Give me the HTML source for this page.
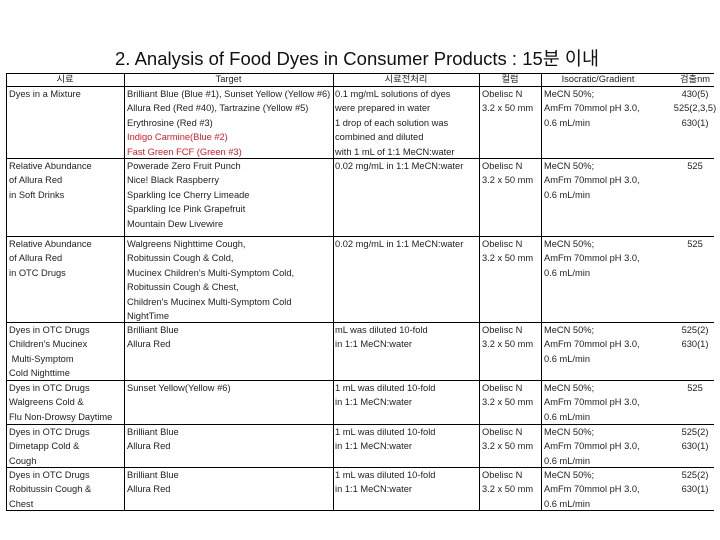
<!DOCTYPE html>
<html><head><meta charset="utf-8">
<style>
body{margin:0;background:#fff;}
#page{position:relative;width:720px;height:540px;overflow:hidden;background:#fff;font-family:"Liberation Sans","Noto Sans CJK KR",sans-serif;color:#222;}
.t{position:absolute;font-size:9.3px;line-height:14.4px;white-space:pre;}
.h{position:absolute;background:#000;height:1.3px;}
.v{position:absolute;background:#000;width:1.3px;}
.red{color:#d0202a;}
.c{text-align:center;}
</style></head><body>
<div id="page">
<div style="position:absolute;left:0;width:714px;top:45px;text-align:center;font-size:18.5px;color:#111;">2. Analysis of Food Dyes in Consumer Products : 15분 이내</div>

<div>
<div class="h" style="left:6px;width:708px;top:73px"></div>
<div class="h" style="left:6px;width:708px;top:86px"></div>
<div class="h" style="left:6px;width:708px;top:158px"></div>
<div class="h" style="left:6px;width:708px;top:236px"></div>
<div class="h" style="left:6px;width:708px;top:322px"></div>
<div class="h" style="left:6px;width:708px;top:380px"></div>
<div class="h" style="left:6px;width:708px;top:424px"></div>
<div class="h" style="left:6px;width:708px;top:467px"></div>
<div class="h" style="left:6px;width:708px;top:510px"></div>
<div class="v" style="left:6px;top:73px;height:438px"></div>
<div class="v" style="left:124px;top:73px;height:438px"></div>
<div class="v" style="left:333px;top:73px;height:438px"></div>
<div class="v" style="left:479px;top:73px;height:438px"></div>
<div class="v" style="left:541px;top:73px;height:438px"></div>
</div>

<div>
<div class="t c" style="left:6px;width:118px;top:72px">시료</div>
<div class="t c" style="left:124px;width:209px;top:72px">Target</div>
<div class="t c" style="left:333px;width:146px;top:72px">시료전처리</div>
<div class="t c" style="left:479px;width:62px;top:72px">컬럼</div>
<div class="t c" style="left:541px;width:114px;top:72px">Isocratic/Gradient</div>
<div class="t c" style="left:660px;width:70px;top:72px">검출nm</div>
</div>

<div>
<div class="t" style="left:9px;top:87px">Dyes in a Mixture</div>
<div class="t" style="left:127px;top:87px">Brilliant Blue (Blue #1), Sunset Yellow (Yellow #6)
Allura Red (Red #40), Tartrazine (Yellow #5)
Erythrosine (Red #3)
<span class="red">Indigo Carmine(Blue #2)
Fast Green FCF (Green #3)</span></div>
<div class="t" style="left:335px;top:87px">0.1 mg/mL solutions of dyes
were prepared in water
1 drop of each solution was
combined and diluted
with 1 mL of 1:1 MeCN:water</div>
<div class="t" style="left:482px;top:87px">Obelisc N
3.2 x 50 mm</div>
<div class="t" style="left:544px;top:87px">MeCN 50%;
AmFm 70mmol pH 3.0,
0.6 mL/min</div>
<div class="t" style="left:660px;width:70px;top:87px;text-align:center">430(5)
525(2,3,5)
630(1)</div>
</div>

<div>
<div class="t" style="left:9px;top:159px">Relative Abundance
of Allura Red
in Soft Drinks</div>
<div class="t" style="left:127px;top:159px">Powerade Zero Fruit Punch
Nice! Black Raspberry
Sparkling Ice Cherry Limeade
Sparkling Ice Pink Grapefruit
Mountain Dew Livewire</div>
<div class="t" style="left:335px;top:159px">0.02 mg/mL in 1:1 MeCN:water</div>
<div class="t" style="left:482px;top:159px">Obelisc N
3.2 x 50 mm</div>
<div class="t" style="left:544px;top:159px">MeCN 50%;
AmFm 70mmol pH 3.0,
0.6 mL/min</div>
<div class="t" style="left:660px;width:70px;top:159px;text-align:center">525</div>
</div>

<div>
<div class="t" style="left:9px;top:237px">Relative Abundance
of Allura Red
in OTC Drugs</div>
<div class="t" style="left:127px;top:237px">Walgreens Nighttime Cough,
Robitussin Cough &amp; Cold,
Mucinex Children's Multi-Symptom Cold,
Robitussin Cough &amp; Chest,
Children's Mucinex Multi-Symptom Cold
NightTime</div>
<div class="t" style="left:335px;top:237px">0.02 mg/mL in 1:1 MeCN:water</div>
<div class="t" style="left:482px;top:237px">Obelisc N
3.2 x 50 mm</div>
<div class="t" style="left:544px;top:237px">MeCN 50%;
AmFm 70mmol pH 3.0,
0.6 mL/min</div>
<div class="t" style="left:660px;width:70px;top:237px;text-align:center">525</div>
</div>

<div>
<div class="t" style="left:9px;top:323px">Dyes in OTC Drugs
Children's Mucinex
 Multi-Symptom
Cold Nighttime</div>
<div class="t" style="left:127px;top:323px">Brilliant Blue
Allura Red</div>
<div class="t" style="left:335px;top:323px">mL was diluted 10-fold
in 1:1 MeCN:water</div>
<div class="t" style="left:482px;top:323px">Obelisc N
3.2 x 50 mm</div>
<div class="t" style="left:544px;top:323px">MeCN 50%;
AmFm 70mmol pH 3.0,
0.6 mL/min</div>
<div class="t" style="left:660px;width:70px;top:323px;text-align:center">525(2)
630(1)</div>
</div>

<div>
<div class="t" style="left:9px;top:381px">Dyes in OTC Drugs
Walgreens Cold &amp;
Flu Non-Drowsy Daytime</div>
<div class="t" style="left:127px;top:381px">Sunset Yellow(Yellow #6)</div>
<div class="t" style="left:335px;top:381px">1 mL was diluted 10-fold
in 1:1 MeCN:water</div>
<div class="t" style="left:482px;top:381px">Obelisc N
3.2 x 50 mm</div>
<div class="t" style="left:544px;top:381px">MeCN 50%;
AmFm 70mmol pH 3.0,
0.6 mL/min</div>
<div class="t" style="left:660px;width:70px;top:381px;text-align:center">525</div>
</div>

<div>
<div class="t" style="left:9px;top:425px">Dyes in OTC Drugs
Dimetapp Cold &amp;
Cough</div>
<div class="t" style="left:127px;top:425px">Brilliant Blue
Allura Red</div>
<div class="t" style="left:335px;top:425px">1 mL was diluted 10-fold
in 1:1 MeCN:water</div>
<div class="t" style="left:482px;top:425px">Obelisc N
3.2 x 50 mm</div>
<div class="t" style="left:544px;top:425px">MeCN 50%;
AmFm 70mmol pH 3.0,
0.6 mL/min</div>
<div class="t" style="left:660px;width:70px;top:425px;text-align:center">525(2)
630(1)</div>
</div>

<div>
<div class="t" style="left:9px;top:468px">Dyes in OTC Drugs
Robitussin Cough &amp;
Chest</div>
<div class="t" style="left:127px;top:468px">Brilliant Blue
Allura Red</div>
<div class="t" style="left:335px;top:468px">1 mL was diluted 10-fold
in 1:1 MeCN:water</div>
<div class="t" style="left:482px;top:468px">Obelisc N
3.2 x 50 mm</div>
<div class="t" style="left:544px;top:468px">MeCN 50%;
AmFm 70mmol pH 3.0,
0.6 mL/min</div>
<div class="t" style="left:660px;width:70px;top:468px;text-align:center">525(2)
630(1)</div>
</div>
</div>
</body></html>
